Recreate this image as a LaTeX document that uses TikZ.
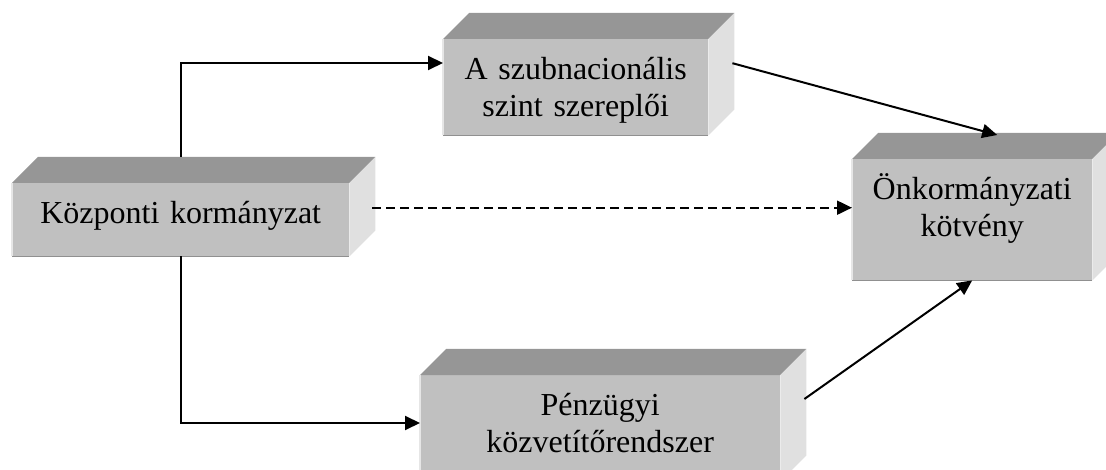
\documentclass[tikz,border=0pt]{standalone}
\usepackage{fontspec}
\setmainfont{Liberation Serif}
\usetikzlibrary{arrows.meta}

\definecolor{elolap}{HTML}{C0C0C0}
\definecolor{tetolap}{HTML}{969696}
\definecolor{oldallap}{HTML}{E0E0E0}

\tikzset{
	doboz/.style={fill=elolap, anchor=north west, inner sep=0pt, align=center,
		text height=40pt, font=\fontsize{32}{37.5}\selectfont},
	nyil/.style={line width=2pt, -{Triangle[length=15pt,width=14pt]}},
}

% teto- es oldallap a doboz mogott
\newcommand{\kocka}[1]{%
	\fill[tetolap] (#1.north west) -- ++(26,-26) -- ([shift={(26,-26)}]#1.north east) -- (#1.north east) -- cycle;
	\fill[oldallap] (#1.north east) -- ++(26,-26) -- ([shift={(26,-26)}]#1.south east) -- (#1.south east) -- cycle;
	\draw[line width=1.5pt, color=elolap!75!black] (#1.south west) -- (#1.south east);
	\draw[line width=1.2pt, color=elolap!40!white] (#1.south west) -- (#1.north west);
}

\begin{document}
\begin{tikzpicture}[x=1pt,y=-1pt]
	
	\clip (0,0) rectangle (1106,470);
	
	%Dobozok
	\node[doboz, text width=337pt, text depth=33pt] (kozp) at (12,183) {Központi kormányzat};
	\kocka{kozp}
	
	\node[doboz, text width=265pt, text depth=56pt] (szub) at (443,39) {A szubnacionális\\szint szereplői};
	\kocka{szub}
	
	\node[doboz, text width=240pt, text depth=81pt] (kotv) at (852,159) {Önkormányzati\\kötvény};
	\kocka{kotv}
	
	\node[doboz, text width=360pt, text depth=66pt] (penz) at (420,375) {Pénzügyi\\közvetítőrendszer};
	\kocka{penz}
	
	%Nyilak
	\draw[nyil] ([yshift=26pt]kozp.north) |- ([yshift=-24pt]szub.north west);
	\draw[nyil] (kozp.south) |- ([yshift=-48pt]penz.north west);
	\draw[nyil, dash pattern=on 9pt off 5pt] ([xshift=23pt,yshift=12pt]kozp.east) -- ([yshift=12pt]kotv.west);
	\draw[nyil] ([shift={(24,-24)}]szub.east) -- ([shift={(25,-24)}]kotv.north);
	\draw[nyil] ([shift={(24,24)}]penz.north east) -- (kotv.south);
	
\end{tikzpicture}
\end{document}
